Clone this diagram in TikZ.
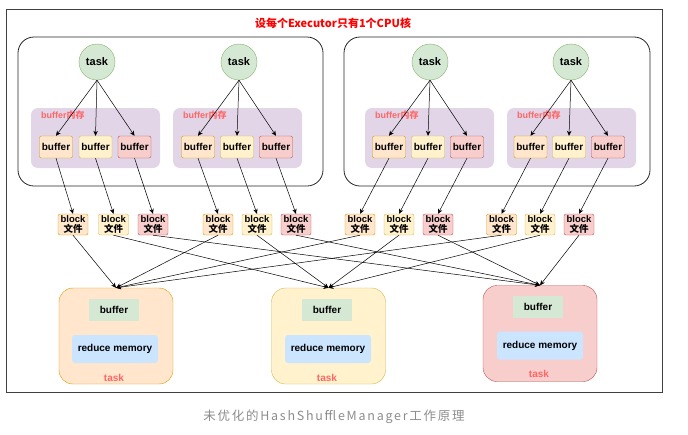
\documentclass[tikz,border=0pt]{standalone}
\usepackage{fontspec}
\setmainfont{Liberation Sans}
\newfontfamily\cjk{Noto Sans CJK SC}
\newfontfamily\capfont[LetterSpace=14]{Noto Sans CJK SC}
\usetikzlibrary{arrows.meta}

\definecolor{grnfill}{HTML}{D5E8D4}
\definecolor{grnline}{HTML}{82B366}
\definecolor{orgfill}{HTML}{FFE6CC}
\definecolor{orgline}{HTML}{D79B00}
\definecolor{ylwfill}{HTML}{FFF2CC}
\definecolor{ylwline}{HTML}{D6B656}
\definecolor{redfill}{HTML}{F8CECC}
\definecolor{redline}{HTML}{B85450}
\definecolor{memfill}{HTML}{E1D5E7}
\definecolor{blufill}{HTML}{CCE5FF}
\definecolor{lblred}{HTML}{FF6666}
\definecolor{capgray}{HTML}{8C8C8C}

\tikzset{
  txt/.style={font=\bfseries\fontsize{10}{11}\selectfont},
  exec/.style={draw=black!85, rounded corners=16pt, line width=0.8pt, minimum height=149pt},
  task/.style={circle, draw=grnline, fill=grnfill, minimum size=36pt, inner sep=0pt,
    font=\bfseries\fontsize{11}{12}\selectfont},
  mem/.style={fill=memfill, rounded corners=7pt, minimum width=129pt, minimum height=60pt},
  memlbl/.style={anchor=west, text=lblred, inner sep=0pt,
    font=\bfseries\fontsize{9}{10}\selectfont},
  buf/.style={txt, rounded corners=2pt, minimum width=33pt, minimum height=22pt, inner sep=0pt},
  blk/.style={rounded corners=2pt, minimum width=30pt, minimum height=21pt, inner sep=0pt,
    text width=30pt, align=center, font=\bfseries\fontsize{9.5}{10.5}\selectfont},
  orangebox/.style={draw=orgline, fill=orgfill},
  yellowbox/.style={draw=ylwline, fill=ylwfill},
  redbox/.style={draw=redline, fill=redfill},
  reducer/.style={rounded corners=14pt, minimum width=114pt, minimum height=96pt},
  rbuf/.style={txt, fill=grnfill, minimum width=50pt, minimum height=22pt},
  rmem/.style={txt, fill=blufill, rounded corners=3pt, minimum width=86pt, minimum height=28pt},
  rlbl/.style={text=lblred, inner sep=0pt, font=\bfseries\fontsize{10}{11}\selectfont},
  arr/.style={-{Stealth[length=5pt,width=4.5pt]}, line width=0.5pt}
}

\begin{document}
\begin{tikzpicture}[x=1pt,y=-1pt]
\useasboundingbox (0,0) rectangle (688,434);

%-------------- frame and title --------------------
\draw [draw=black!75, line width=0.8pt] (6,9) rectangle (662,392);
\node [text=red, font=\cjk\bfseries\fontsize{11}{13}\selectfont] (title) at (333,23)
  {设每个Executor只有1个CPU核};

%-------------- executors --------------------
\node [exec, minimum width=305pt] (E1) at (170.5,111.5) {};
\node [exec, minimum width=306pt] (E2) at (497,111.5) {};

\node [mem] (M1) at (95.5,138) {};
\node [mem] (M2) at (237.5,138) {};
\node [mem] (M3) at (429.5,138) {};
\node [mem] (M4) at (571.5,138) {};

\node [memlbl] (L1) at (41,115) {buffer{\cjk 内存}};
\node [memlbl] (L2) at (183,115) {buffer{\cjk 内存}};
\node [memlbl] (L3) at (375,115) {buffer{\cjk 内存}};
\node [memlbl] (L4) at (517,115) {buffer{\cjk 内存}};

%-------------- map tasks --------------------
\node [task] (T1) at (97,62) {task};
\node [task] (T2) at (239,62) {task};
\node [task] (T3) at (430,62) {task};
\node [task] (T4) at (571,62) {task};

%-------------- buffers --------------------
\node [buf, orangebox] (B11) at (56,147) {buffer};
\node [buf, yellowbox] (B12) at (95.5,147) {buffer};
\node [buf, redbox] (B13) at (134.5,147) {buffer};

\node [buf, orangebox] (B21) at (198,147) {buffer};
\node [buf, yellowbox] (B22) at (237,147) {buffer};
\node [buf, redbox] (B23) at (276,147) {buffer};

\node [buf, orangebox] (B31) at (389,147) {buffer};
\node [buf, yellowbox] (B32) at (428,147) {buffer};
\node [buf, redbox] (B33) at (467,147) {buffer};

\node [buf, orangebox] (B41) at (530.5,147) {buffer};
\node [buf, yellowbox] (B42) at (569,147) {buffer};
\node [buf, redbox] (B43) at (608,147) {buffer};

\draw [arr] (T1.south) -- (B11.north);
\draw [arr] (T1.south) -- (B12.north);
\draw [arr] (T1.south) -- (B13.north);
\draw [arr] (T2.south) -- (B21.north);
\draw [arr] (T2.south) -- (B22.north);
\draw [arr] (T2.south) -- (B23.north);
\draw [arr] (T3.south) -- (B31.north);
\draw [arr] (T3.south) -- (B32.north);
\draw [arr] (T3.south) -- (B33.north);
\draw [arr] (T4.south) -- (B41.north);
\draw [arr] (T4.south) -- (B42.north);
\draw [arr] (T4.south) -- (B43.north);

%-------------- block files --------------------
\node [blk, orangebox] (F11) at (73,224.5) {block\\{\cjk 文件}};
\node [blk, yellowbox] (F12) at (113.5,224.5) {block\\{\cjk 文件}};
\node [blk, redbox] (F13) at (153,224.5) {block\\{\cjk 文件}};

\node [blk, orangebox] (F21) at (218,224.5) {block\\{\cjk 文件}};
\node [blk, yellowbox] (F22) at (257,224.5) {block\\{\cjk 文件}};
\node [blk, redbox] (F23) at (296,224.5) {block\\{\cjk 文件}};

\node [blk, orangebox] (F31) at (360,224.5) {block\\{\cjk 文件}};
\node [blk, yellowbox] (F32) at (399,224.5) {block\\{\cjk 文件}};
\node [blk, redbox] (F33) at (438,224.5) {block\\{\cjk 文件}};

\node [blk, orangebox] (F41) at (501.5,224.5) {block\\{\cjk 文件}};
\node [blk, yellowbox] (F42) at (540,224.5) {block\\{\cjk 文件}};
\node [blk, redbox] (F43) at (579,224.5) {block\\{\cjk 文件}};

\draw [arr] (B11.south) -- (F11.north);
\draw [arr] (B12.south) -- (F12.north);
\draw [arr] (B13.south) -- (F13.north);
\draw [arr] (B21.south) -- (F21.north);
\draw [arr] (B22.south) -- (F22.north);
\draw [arr] (B23.south) -- (F23.north);
\draw [arr] (B31.south) -- (F31.north);
\draw [arr] (B32.south) -- (F32.north);
\draw [arr] (B33.south) -- (F33.north);
\draw [arr] (B41.south) -- (F41.north);
\draw [arr] (B42.south) -- (F42.north);
\draw [arr] (B43.south) -- (F43.north);

%-------------- reduce tasks --------------------
\node [reducer, orangebox] (R1) at (116,336) {};
\node [reducer, yellowbox] (R2) at (328.5,336) {};
\node [reducer, redbox] (R3) at (540,333.5) {};

\node [rbuf] (RB1) at (114,310) {buffer};
\node [rmem] (RM1) at (115,349) {reduce memory};
\node [rlbl] (RL1) at (114,378) {task};

\node [rbuf] (RB2) at (327,310) {buffer};
\node [rmem] (RM2) at (328,349) {reduce memory};
\node [rlbl] (RL2) at (327,378) {task};

\node [rbuf] (RB3) at (538,306.5) {buffer};
\node [rmem] (RM3) at (540,345.5) {reduce memory};
\node [rlbl] (RL3) at (539,374) {task};

\draw [arr] (F11.south) -- (R1.north);
\draw [arr] (F21.south) -- (R1.north);
\draw [arr] (F31.south) -- (R1.north);
\draw [arr] (F41.south) -- (R1.north);

\draw [arr] (F12.south) -- (R2.north);
\draw [arr] (F22.south) -- (R2.north);
\draw [arr] (F32.south) -- (R2.north);
\draw [arr] (F42.south) -- (R2.north);

\draw [arr] (F13.south) -- (R3.north);
\draw [arr] (F23.south) -- (R3.north);
\draw [arr] (F33.south) -- (R3.north);
\draw [arr] (F43.south) -- (R3.north);

%-------------- caption --------------------
\node [text=capgray, font=\capfont\fontsize{12.5}{14}\selectfont] (cap) at (334,417)
  {未优化的HashShuffleManager工作原理};

\end{tikzpicture}
\end{document}
